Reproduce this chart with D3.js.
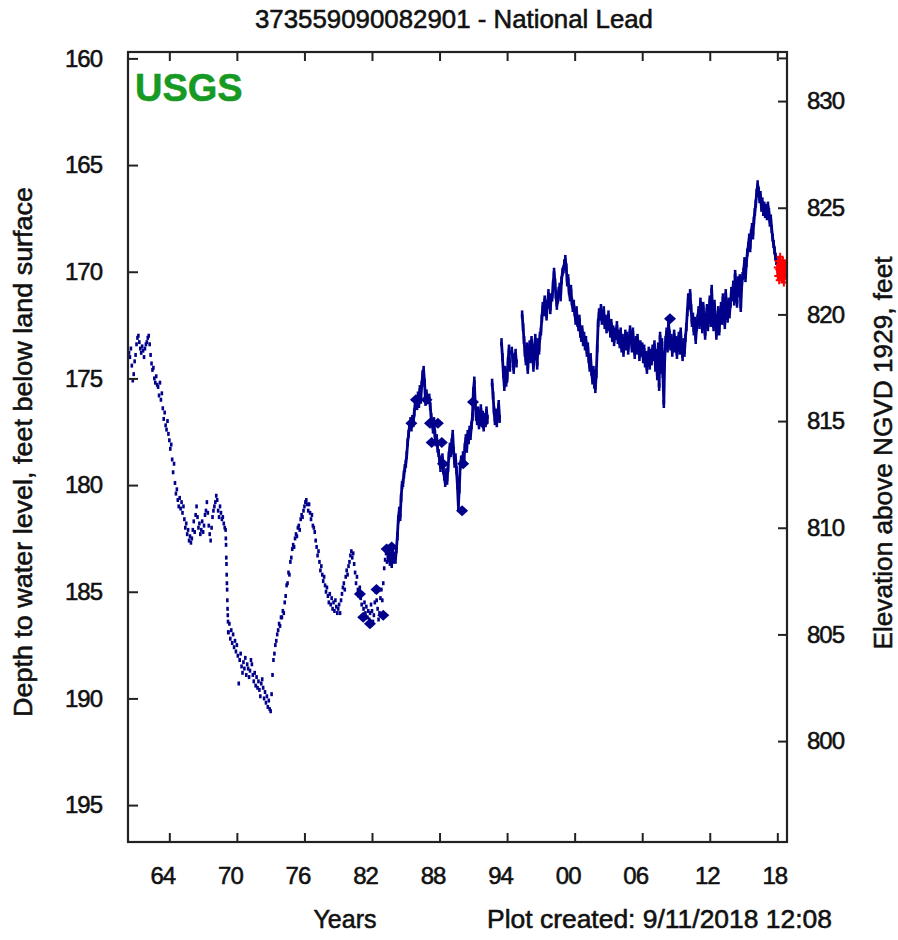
<!DOCTYPE html>
<html>
<head>
<meta charset="utf-8">
<script src="https://cdn.jsdelivr.net/npm/d3@7"></script>
<style>
  body { margin: 0; background: #fff; }
  svg text { font-family: "Liberation Sans", Arial, sans-serif; fill: #111; stroke: #111; stroke-width: 0.55px; }
</style>
</head>
<body>
<svg id="chart" width="898" height="940"></svg>
<script>
// Well 373559090082901 - National Lead: depth to water, feet below land surface.
const siteTitle = "373559090082901 - National Lead";
const landSurfaceElev = 992;   // feet above NGVD 1929

// Periodic tape measurements, monthly from mid-1960 to end of 1968
const tape1960sStart = 1960.42;
const tape1960sDepth = [
  173.8, 174.0, 173.6, 174.4, 175.1, 174.8, 174.2,
  173.9, 173.4, 173.1, 173.0, 173.3, 173.6, 173.8, 173.5, 173.7, 174.0, 173.6, 173.4,
  173.3, 173.1, 173.0, 173.4, 173.9, 174.3, 174.6, 174.5, 175.0, 175.2, 174.9, 175.3,
  175.4, 175.8, 175.2, 176.0, 175.7, 176.4, 176.9, 176.6, 177.2, 177.4, 177.0, 177.6,
  177.9, 178.3, 178.1, 178.8, 179.4, 179.0, 179.9, 180.4, 180.2, 180.7, 181.0, 180.6,
  181.1, 180.8, 181.3, 181.0, 181.6, 182.0, 181.8, 182.3, 182.1, 182.6, 182.4, 182.7,
  182.5, 182.1, 181.7, 182.2, 181.4, 181.0, 181.5, 182.0, 181.8, 182.3, 182.1, 181.7,
  182.2, 181.9, 181.4, 181.2, 180.8, 181.3, 181.9, 182.3, 182.6, 182.0, 181.5, 181.2,
  181.0, 180.8, 180.5, 180.7, 181.2, 181.5, 181.0, 181.3, 181.6, 181.5, 181.8, 182.0
];

// Weekly readings through the early-1969 decline
const decline1969Start = 1969.0;
const decline1969Depth = [182.1, 182.5, 182.8, 183.4, 183.7, 184.2, 184.6, 184.9, 185.4, 185.8, 186.1, 186.4, 186.9];

// Monthly tape measurements, spring 1969 to spring 1983
const tape1970sStart = 1969.25;
const tape1970sDepth = [
  186.9, 186.5, 187.2, 186.8, 187.4, 187.0, 187.6, 187.3, 187.8,
  187.5, 188.0, 189.3, 188.2, 187.9, 188.5, 188.8, 188.3, 188.6, 188.1, 188.9, 188.4,
  188.6, 189.0, 188.7, 188.2, 188.4, 188.9, 189.2, 188.8, 189.4, 189.0, 189.5, 189.2,
  189.6, 189.9, 189.3, 189.1, 189.5, 190.0, 189.7, 190.2, 189.9, 190.4, 190.1, 190.5,
  190.6, 189.8, 188.9, 188.2, 187.9, 187.5, 187.3, 187.0, 186.8, 186.5, 186.6, 186.2,
  186.2, 185.9, 186.0, 185.5, 185.2, 184.7, 184.6, 184.1, 184.2, 183.6, 183.4, 183.0,
  182.8, 182.9, 182.5, 182.3, 182.4, 182.0, 181.9, 182.1, 181.6, 181.4, 181.5, 181.2,
  181.0, 180.8, 180.7, 180.9, 181.2, 180.9, 181.3, 181.6, 181.4, 181.9, 182.0, 182.2,
  182.6, 182.9, 183.3, 183.1, 183.6, 184.0, 183.8, 184.2, 184.5, 184.3, 184.7, 185.0,
  184.8, 185.2, 185.5, 185.1, 185.6, 185.3, 185.8, 185.5, 185.9, 185.4, 185.7, 186.0,
  185.8, 185.6, 186.0, 185.4, 185.1, 184.8, 184.6, 184.9, 184.3, 184.0, 184.2, 183.8,
  183.6, 183.3, 183.1, 183.4, 183.2, 183.7, 184.1, 184.6, 184.3, 184.9, 185.2, 184.8,
  185.3, 185.6, 185.1, 185.8, 185.5, 186.0, 185.7, 186.2, 185.9, 186.3, 186.0, 185.6,
  185.9, 186.4, 186.1, 185.5, 185.0, 185.4, 185.8, 186.3, 186.0, 185.3, 184.9, 185.4,
  184.6, 183.9, 183.5, 183.2, 183.6
];

// Recorder record, monthly from mid-1983 to end of 2017 (null = no record)
const recorderStart = 1983.42;
const recorderDepth = [
  183.4, 183.0, 183.6, 183.3, 183.7, 183.2, 183.5,
  183.3, 183.5, 183.0, 182.4, 181.6, 181.2, 181.5, 180.6, 180.0, 179.9, 179.5, 179.2,
  179.0, 178.6, 178.0, 177.6, 177.2, 177.0, 177.3, 176.9, 177.1, 176.6, 176.2, 176.0,
  176.3, 175.8, 176.2, 175.5, 176.0, 175.3, 174.8, 174.6, 175.2, 176.1, 175.7, 176.0,
  176.0, 175.9, 176.3, 176.8, 177.1, 177.4, 177.0, 177.6, 178.0, 177.8, 178.3, 178.5,
  178.8, 179.2, 179.0, 178.7, 179.3, 179.6, 179.9, 179.4, 179.8, 179.2, 178.6, 178.2,
  178.5, 178.0, 177.6, 178.4, 179.0, 178.7, 179.3, 180.0, 181.0, 180.2, 179.1, 178.8,
  179.0, 178.6, 178.9, 178.2, 177.8, 178.3, 177.6, 177.9, 177.4, 177.7, 177.2, 176.8,
  175.6, 175.1, 176.2, 176.8, 177.0, 176.5, 177.2, 176.9, 176.4, 177.0, 176.7, 177.3,
  176.8, 177.1, 176.5, 176.9, null, null, null, null, 175.2, 175.8, 176.5, 177.0,
  176.6, 177.1, 176.8, 176.2, 176.9, null, 173.3, 174.0, 174.8, 175.4, 174.6, 175.2,
  175.0, 174.2, 173.6, 174.5, null, 173.7, 174.1, 174.6, 174.0, 173.8, 174.3, null,
  null, null, null, null, 172.0, 172.6, 173.2, 173.8, 174.2, 173.5, 174.6, 173.9,
  173.4, 174.1, 173.2, 173.8, 174.5, 173.6, 173.1, 173.9, 174.4, 173.3, 173.7, 173.0,
  172.8, 172.2, 171.6, 171.9, 171.3, 171.7, 172.1, 171.5, 171.0, 171.4, 171.8, 171.2,
  171.2, 170.6, 170.0, 170.5, 171.1, 171.6, 171.3, 170.9, 170.7, 171.2, 170.4, 170.0,
  169.9, 169.6, 169.4, 169.8, 170.5, 170.3, 170.9, 171.2, 170.8, 171.4, 171.7, 171.5,
  171.9, 172.3, 171.8, 172.4, 172.6, 172.2, 172.9, 173.1, 172.7, 173.3, 173.0, 173.5,
  173.2, 173.8, 173.5, 174.1, 174.5, 174.0, 174.7, 175.1, 174.6, 175.3, 175.5, 174.8,
  173.6, 172.4, 171.9, 172.1, 171.7, 172.3, 172.0, 171.8, 172.5, 172.2, 172.7, 172.4,
  172.0, 172.6, 172.9, 172.4, 173.1, 172.7, 173.3, 172.8, 173.0, 172.5, 173.2, 172.9,
  173.4, 172.8, 173.6, 173.1, 173.8, 173.3, 172.9, 173.5, 173.0, 173.7, 173.2, 172.7,
  173.0, 173.6, 172.8, 173.4, 173.9, 173.2, 173.7, 173.1, 173.5, 174.0, 173.4, 173.8,
  173.5, 174.1, 173.6, 174.3, 173.9, 174.6, 174.0, 173.7, 174.4, 173.8, 174.2, 173.6,
  174.0, 173.4, 174.5, 173.8, 174.9, 173.5, 175.4, 173.0, 174.6, 173.3, 174.8, 176.2,
  174.0, 173.2, 172.8, 173.6, 172.4, 172.9, 173.5, 173.1, 173.8, 173.3, 172.9, 173.6,
  173.2, 173.9, 173.4, 173.0, 173.7, 172.8, 173.5, 174.0, 173.3, 173.8, 173.1, 172.6,
  171.9, 171.2, 171.6, 171.0, 171.7, 172.4, 172.1, 172.8, 172.3, 173.2, 172.6, 172.2,
  171.8, 172.5, 171.4, 172.0, 172.7, 171.6, 172.3, 173.0, 172.2, 171.7, 172.6, 172.0,
  171.3, 172.4, 170.8, 171.9, 172.6, 171.5, 172.2, 173.0, 172.5, 171.8, 172.8, 172.1,
  171.6, 172.3, 171.2, 171.8, 172.5, 171.0, 171.7, 172.2, 171.4, 172.0, 171.5, 170.9,
  171.2, 170.6, 171.4, 170.1, 170.8, 171.5, 170.4, 171.0, 170.3, 171.7, 170.7, 170.2,
  170.0, 169.5, 170.3, 169.6, 169.1, 168.8, 168.4, 168.9, 168.2, 167.9, 168.3, 167.6,
  167.2, 166.8, 166.3, 165.9, 166.2, 166.6, 166.4, 167.0, 166.7, 167.2, 166.9, 167.3,
  167.0, 167.4, 166.9, 167.2, 167.7, 167.5, 168.0, 168.4, 168.7, 169.0, 169.3, 169.5
];

// Provisional 2018 data, twice monthly
const provisionalStart = 2018.0;
const provisionalDepth = [
  169.8, 170.2, 169.5, 169.9, 170.4, 169.7, 169.3, 169.8, 170.1, 169.6, 170.3,
  169.9, 169.5, 170.0, 170.5, 169.8, 169.6, 170.1, 169.9, 170.2, 169.7
];

// Field (discrete) measurements
const fieldYears  = [1980.93, 1981.22, 1981.82, 1982.4, 1983.0, 1983.3, 1983.75, 1985.5, 1985.9, 1986.85, 1987.15, 1987.85, 1987.3, 1988.2, 1988.3, 1990.0, 1990.1, 1990.97, 1991.85, 2008.47];
const fieldDepths = [185.1, 186.2, 186.5, 184.9, 186.1, 183.0, 182.9, 177.1, 176.0, 176.0, 177.1, 177.1, 178.0, 178.0, 179.0, 181.2, 179.0, 176.1, 177.1, 172.2];

// Axis ticks
const yearTicks = [1964, 1970, 1976, 1982, 1988, 1994, 2000, 2006, 2012, 2018];
const yearTickLabels = ["64", "70", "76", "82", "88", "94", "00", "06", "12", "18"];
const depthTicks = [160, 165, 170, 175, 180, 185, 190, 195];
const elevTicks = [800, 805, 810, 815, 820, 825, 830];

// ---- layout ----
const svg = d3.select("#chart");
const plotLeft = 128, plotRight = 787, plotTop = 52, plotBottom = 842;
const navy = "#00008b";

const x = d3.scaleLinear().domain([1960.33, 2018.86]).range([plotLeft, plotRight]);
const y = d3.scaleLinear().domain([159.7, 196.73]).range([plotTop, plotBottom]);
const yElev = d3.scaleLinear()
  .domain([landSurfaceElev - 159.7, landSurfaceElev - 196.73])
  .range([plotTop, plotBottom]);

const toPoints = (start, step, values) => values.map((d, i) => ({ t: start + i * step, d }));

const tapePts = [
  ...toPoints(tape1960sStart, 1 / 12, tape1960sDepth),
  ...toPoints(decline1969Start, 1 / 52, decline1969Depth),
  ...toPoints(tape1970sStart, 1 / 12, tape1970sDepth)
];
const recorderPts = toPoints(recorderStart, 1 / 12, recorderDepth);
const provisionalPts = toPoints(provisionalStart, 1 / 24, provisionalDepth);
const fieldPts = fieldYears.map((t, i) => ({ t, d: fieldDepths[i] }));

// clip to the plotting frame
svg.append("clipPath").attr("id", "plotClip")
  .append("rect").attr("x", plotLeft).attr("y", plotTop)
  .attr("width", plotRight - plotLeft).attr("height", plotBottom - plotTop);

const plot = svg.append("g").attr("clip-path", "url(#plotClip)");

// tape measurements as small dots
plot.append("g").selectAll("rect").data(tapePts).join("rect")
  .attr("x", p => x(p.t) - 1.3)
  .attr("y", p => y(p.d) - 2)
  .attr("width", 2.6)
  .attr("height", 4)
  .attr("fill", navy);

// recorder trace: connecting line plus a short daily-range bar at each point
const line = d3.line()
  .defined(p => p.d !== null)
  .x(p => x(p.t))
  .y(p => y(p.d));

plot.append("path")
  .datum(recorderPts)
  .attr("d", line)
  .attr("fill", "none")
  .attr("stroke", navy)
  .attr("stroke-width", 2.8)
  .attr("stroke-linejoin", "round");

plot.append("g").selectAll("rect")
  .data(recorderPts.filter(p => p.d !== null)).join("rect")
  .attr("x", p => x(p.t) - 1.3)
  .attr("y", p => y(p.d) - 4)
  .attr("width", 2.6)
  .attr("height", 8)
  .attr("fill", navy);

// field measurements as diamonds
plot.append("g").selectAll("path").data(fieldPts).join("path")
  .attr("transform", p => `translate(${x(p.t)},${y(p.d)})`)
  .attr("d", "M0,-5.5L6,0L0,5.5L-6,0Z")
  .attr("fill", navy);

// provisional data in red
plot.append("path")
  .datum(provisionalPts)
  .attr("d", line)
  .attr("fill", "none")
  .attr("stroke", "#ff0000")
  .attr("stroke-width", 2.8)
  .attr("stroke-linejoin", "round");
plot.append("g").selectAll("path").data(provisionalPts).join("path")
  .attr("transform", p => `translate(${x(p.t)},${y(p.d)})`)
  .attr("d", "M-3.5,0H3.5M0,-4V4")
  .attr("stroke", "#ff0000")
  .attr("stroke-width", 2);

// ---- axes ----
const tickFont = g => g.selectAll("text")
  .style("font-size", "24px")
  .style("font-family", '"Liberation Sans", Arial, sans-serif')
  .attr("fill", "#111");

const axisStyle = g => {
  g.select(".domain").remove();
  g.selectAll(".tick line").attr("stroke", "#222").attr("stroke-width", 2);
};

// bottom years
svg.append("g").attr("transform", `translate(0,${plotBottom})`)
  .call(d3.axisBottom(x).tickValues(yearTicks).tickSize(-9).tickPadding(25)
    .tickFormat((d, i) => yearTickLabels[i]))
  .call(axisStyle).call(tickFont)
  .call(g => g.selectAll("text")
    .attr("dx", (d, i) => yearTickLabels[i][0] === "1" ? -3 : -7)
    .attr("letter-spacing", "-1px"));

// top ticks only
svg.append("g").attr("transform", `translate(0,${plotTop})`)
  .call(d3.axisTop(x).tickValues(yearTicks).tickSize(-9).tickFormat(""))
  .call(axisStyle);

// left depth axis
svg.append("g").attr("transform", `translate(${plotLeft},0)`)
  .call(d3.axisLeft(y).tickValues(depthTicks).tickSize(-10).tickPadding(26))
  .call(axisStyle).call(tickFont)
  .call(g => g.selectAll("text").attr("letter-spacing", "-1px"));

// right elevation axis
svg.append("g").attr("transform", `translate(${plotRight},0)`)
  .call(d3.axisRight(yElev).tickValues(elevTicks).tickSize(-9).tickPadding(20))
  .call(axisStyle).call(tickFont)
  .call(g => g.selectAll("text").attr("letter-spacing", "-1px"));

// short tick on the right frame at the top depth gridline
svg.append("line")
  .attr("x1", plotRight - 8).attr("x2", plotRight)
  .attr("y1", y(160)).attr("y2", y(160))
  .attr("stroke", "#222").attr("stroke-width", 2);

// frame
svg.append("rect")
  .attr("x", plotLeft).attr("y", plotTop)
  .attr("width", plotRight - plotLeft).attr("height", plotBottom - plotTop)
  .attr("fill", "none").attr("stroke", "#222").attr("stroke-width", 2.2);

// ---- text ----
svg.append("text")
  .attr("x", 454).attr("y", 28)
  .attr("text-anchor", "middle")
  .attr("textLength", 398).attr("lengthAdjust", "spacingAndGlyphs")
  .style("font-size", "25px")
  .text(siteTitle);

svg.append("text")
  .attr("x", 135).attr("y", 101)
  .style("font-size", "38px").style("font-weight", "bold")
  .style("fill", "#179a24").style("stroke", "#179a24")
  .text("USGS");

svg.append("text")
  .attr("transform", "translate(32,452) rotate(-90)")
  .attr("text-anchor", "middle")
  .attr("textLength", 530).attr("lengthAdjust", "spacingAndGlyphs")
  .style("font-size", "26px")
  .text("Depth to water level, feet below land surface");

svg.append("text")
  .attr("transform", "translate(892,453) rotate(-90)")
  .attr("text-anchor", "middle")
  .attr("textLength", 393).attr("lengthAdjust", "spacingAndGlyphs")
  .style("font-size", "26px")
  .text("Elevation above NGVD 1929, feet");

svg.append("text")
  .attr("x", 345).attr("y", 928)
  .attr("text-anchor", "middle")
  .style("font-size", "25px")
  .text("Years");

svg.append("text")
  .attr("x", 487).attr("y", 928)
  .attr("textLength", 345).attr("lengthAdjust", "spacingAndGlyphs")
  .style("font-size", "25px")
  .text("Plot created: 9/11/2018 12:08");
</script>
</body>
</html>
